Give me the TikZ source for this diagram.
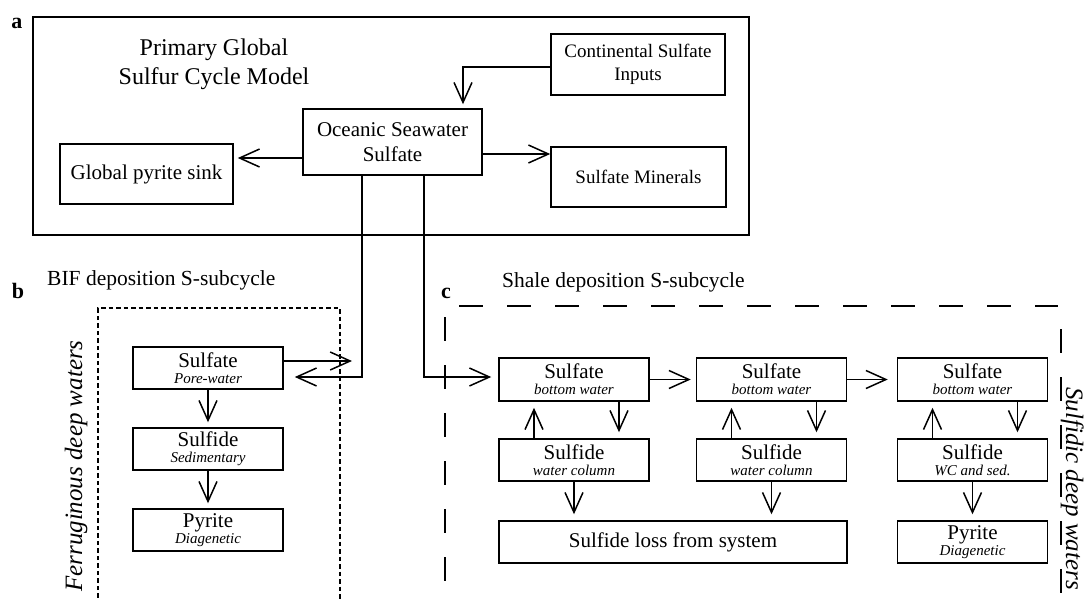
\documentclass[tikz,border=0pt]{standalone}
\usepackage{fontspec}
\setmainfont{Liberation Serif}
\usetikzlibrary{arrows.meta}
\newcommand\fbig{\fontsize{21}{16}\selectfont}
\newcommand\fsub{\fontsize{15}{16}\selectfont\itshape}
\newcommand\twol[2]{{\fbig #1}\\{\fsub #2}}
\begin{document}
\begin{tikzpicture}[x=1pt,y=-1pt,
  bx/.style={draw, line width=1.5pt, inner sep=0pt, align=center, font=\fontsize{21}{16}\selectfont},
  sbox/.style={bx, minimum width=150pt, minimum height=42pt},
  arr/.style={line width=1.5pt, -{Straight Barb[length=20pt,width=18pt,line width=1.5pt]}},
  plabel/.style={font=\fontsize{22}{22}\selectfont\bfseries, inner sep=0pt},
  ttl/.style={font=\fontsize{21.5}{22}\selectfont, inner sep=0pt, anchor=base west},
  bdash/.style={line width=1.1pt, dash pattern=on 4.5pt off 3pt},
  cdash/.style={line width=1.3pt, dash pattern=on 24pt off 24pt},
  side/.style={font=\fontsize{25}{25}\selectfont\itshape, inner sep=0pt, anchor=base west}
]
\useasboundingbox (0,0) rectangle (1084,598);
\clip (0,0) rectangle (1084,598);

% ---------- panel a ----------
\draw[line width=1.5pt] (33,17) rectangle (749,235);
\node[plabel] (la) at (17,23) {a};
\node[inner sep=0pt, align=center, font=\fontsize{24}{29}\selectfont] (title) at (214,64) {Primary Global\\Sulfur Cycle Model};

\node[bx, minimum width=174pt, minimum height=61pt, font=\fontsize{19}{23}\selectfont] (cont) at (638,64.5) {Continental Sulfate\\Inputs};
\node[bx, minimum width=179pt, minimum height=66pt, font=\fontsize{21}{25}\selectfont] (oce) at (392.5,142) {Oceanic Seawater\\Sulfate};
\node[bx, minimum width=173pt, minimum height=60pt] (gps) at (146.5,174) {Global pyrite sink};
\node[bx, minimum width=175pt, minimum height=60pt, font=\fontsize{19}{23}\selectfont] (min) at (638.5,177) {Sulfate Minerals};

\draw[arr, shorten >=4pt] ([yshift=-2.5pt]cont.west) -| ([xshift=70.5pt]oce.north);
\draw[arr, shorten >=4pt] ([yshift=-16pt]oce.west) -- ([yshift=16pt]gps.east);
\draw[arr] ([yshift=-12pt]oce.east) -- ([yshift=23pt]min.west);

% ---------- panel b ----------
\node[plabel] (lb) at (18,291) {b};
\node[ttl] (tb) at (47,285) {BIF deposition S-subcycle};
\draw[bdash] (98,620) -- (98,308) -- (340,308) -- (340,620);
\node[side, rotate=90] (fer) at (82,592) {Ferruginous deep waters};

\node[sbox] (sb) at (208,368) {\twol{Sulfate}{Pore-water}};
\node[sbox] (sdb) at (208,449) {\twol{Sulfide}{Sedimentary}};
\node[sbox] (pb) at (208,530) {\twol{Pyrite}{Diagenetic}};

\coordinate (kb) at (352,361);
\coordinate (bx) at (362,377);
\draw[arr] (sb.east |- kb) -- (kb);
\draw[arr, shorten >=11pt] (oce.south -| bx) |- (sb.east |- bx);
\draw[arr, shorten >=5pt] (sb.south) -- (sdb.north);
\draw[arr, shorten >=5pt] (sdb.south) -- (pb.north);

% ---------- panel c ----------
\node[plabel] (lc) at (446,293) {c};
\node[ttl] (tc) at (502,287) {Shale deposition S-subcycle};
\draw[cdash] (459,306) -- (1058,306);
\draw[cdash] (445,317) -- (445,620);
\draw[cdash] (1061,329) -- (1061,620);
\node[side, rotate=-90] (sul) at (1066,387) {Sulfidic deep waters};

\node[sbox, minimum height=43pt] (s1) at (574,379.5) {\twol{Sulfate}{bottom water}};
\node[sbox, minimum height=43pt] (s2) at (771.5,379.5) {\twol{Sulfate}{bottom water}};
\node[sbox, minimum height=43pt] (s3) at (972.5,379.5) {\twol{Sulfate}{bottom water}};
\node[sbox] (d1) at (574,460) {\twol{Sulfide}{water column}};
\node[sbox] (d2) at (771.5,460) {\twol{Sulfide}{water column}};
\node[sbox] (d3) at (972.5,460) {\twol{Sulfide}{WC and sed.}};
\node[bx, minimum width=348pt, minimum height=42pt] (loss) at (673,542) {Sulfide loss from system};
\node[sbox] (p3) at (972.5,542) {\twol{Pyrite}{Diagenetic}};

\coordinate (cx) at (424,377);
\draw[arr, shorten >=7pt] (oce.south -| cx) |- (s1.west |- cx);
\draw[arr, shorten >=5pt] (s1.east) -- (s2.west);
\draw[arr, shorten >=9pt] (s2.east) -- (s3.west);

\foreach \n in {1,2,3}{
  \draw[arr, shorten >=6pt] ([xshift=-40pt]d\n.north) -- ([xshift=-40pt]s\n.south);
  \draw[arr, shorten >=6pt] ([xshift=45pt]s\n.south) -- ([xshift=45pt]d\n.north);
}
\draw[arr, shorten >=6pt] (d1.south) -- (loss.north -| d1.south);
\draw[arr, shorten >=6pt] (d2.south) -- (loss.north -| d2.south);
\draw[arr, shorten >=6pt] (d3.south) -- (p3.north);
\end{tikzpicture}
\end{document}
